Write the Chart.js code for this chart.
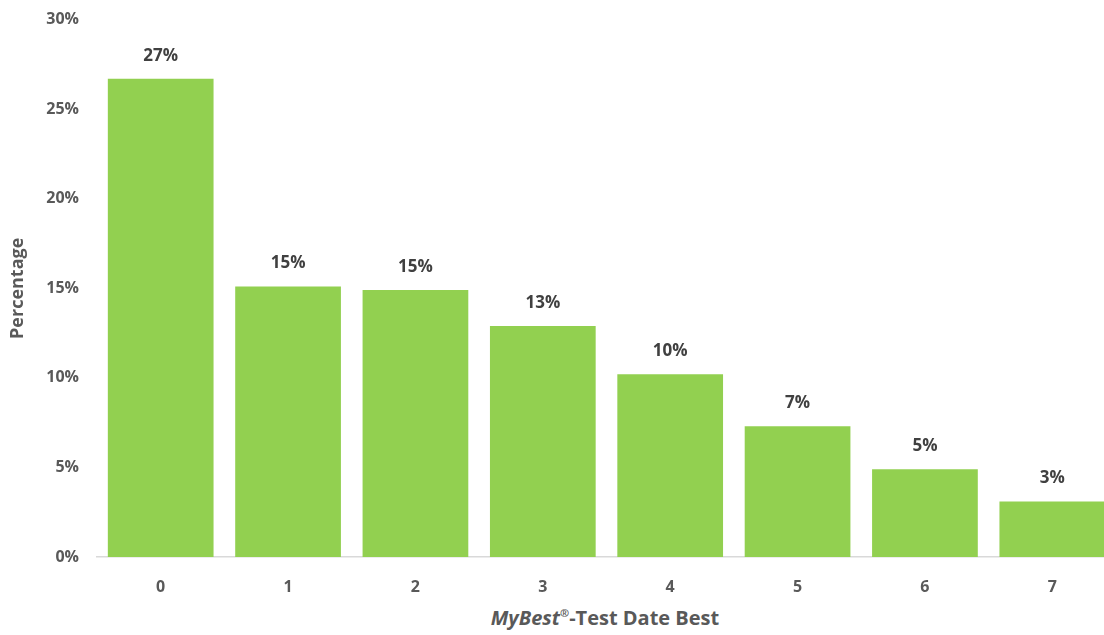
<!DOCTYPE html>
<html lang="en">
<head>
  <meta charset="UTF-8" />
  <title>MyBest Test Date Best</title>
  <script src="https://cdn.jsdelivr.net/npm/chart.js"></script>
  <style>
    body {
      margin: 0;
      background: #fff;
      overflow: hidden;
      font-family: 'Open Sans', sans-serif;
    }
    #wrap {
      position: relative;
      width: 1116px;
      height: 635px;
      overflow: hidden;
    }
    #chartBox {
      position: absolute;
      left: 0;
      top: -8px;
      width: 1116px;
      height: 610px;
    }
    .x-title {
      position: absolute;
      left: 97px;
      width: 1016px;
      top: 604px;
      text-align: center;
      font-size: 20px;
      font-weight: bold;
      color: #595959;
    }
    .x-title sup {
      font-size: 11px;
    }
  </style>
</head>
<body>
  <div id="wrap">
    <div id="chartBox"><canvas id="chart"></canvas></div>
    <div class="x-title"><i>MyBest</i><sup>®</sup>-Test Date Best</div>
  </div>

  <script>
    const categories = ['0', '1', '2', '3', '4', '5', '6', '7'];
    const percentages = [26.7, 15.1, 14.9, 12.9, 10.2, 7.3, 4.9, 3.1];
    const yTicks = [0, 5, 10, 15, 20, 25, 30];

    const FONT = "'Open Sans', sans-serif";

    // value labels over each bar
    const barLabels = {
      id: 'barLabels',
      afterDatasetsDraw(chart) {
        const ctx = chart.ctx;
        const meta = chart.getDatasetMeta(0);
        ctx.save();
        ctx.font = 'bold 17px ' + FONT;
        ctx.fillStyle = '#404040';
        ctx.textAlign = 'center';
        ctx.textBaseline = 'middle';
        meta.data.forEach((bar, i) => {
          ctx.fillText(Math.round(percentages[i]) + '%', bar.x, bar.y - 23);
        });
        ctx.restore();
      }
    };

    const ctx = document.getElementById('chart').getContext('2d');
    new Chart(ctx, {
      type: 'bar',
      data: {
        labels: categories,
        datasets: [{
          data: percentages,
          backgroundColor: '#92D050',
          categoryPercentage: 1,
          barPercentage: 0.83
        }]
      },
      options: {
        responsive: true,
        maintainAspectRatio: false,
        animation: false,
        layout: { padding: { top: 9, left: 0, right: 0, bottom: 0 } },
        plugins: {
          legend: { display: false },
          tooltip: { enabled: false }
        },
        scales: {
          x: {
            grid: { display: false, drawTicks: false },
            border: { display: true, color: '#d9d9d9', width: 1.5 },
            ticks: {
              color: '#595959',
              font: { family: FONT, size: 16, weight: 'bold' },
              padding: 21
            },
            afterFit(scale) { scale.height = 45; }
          },
          y: {
            min: 0,
            max: 30,
            afterBuildTicks(scale) {
              scale.ticks = yTicks.map(v => ({ value: v }));
            },
            grid: { display: false, drawTicks: false },
            border: { display: false },
            ticks: {
              color: '#595959',
              font: { family: FONT, size: 16, weight: 'bold' },
              padding: 18,
              callback: v => v + '%'
            },
            title: {
              display: true,
              text: 'Percentage',
              color: '#595959',
              font: { family: FONT, size: 18, weight: 'bold' },
              padding: { top: 7, bottom: 4 }
            },
            afterFit(scale) { scale.width = 97; }
          }
        }
      },
      plugins: [barLabels]
    });
  </script>
</body>
</html>
